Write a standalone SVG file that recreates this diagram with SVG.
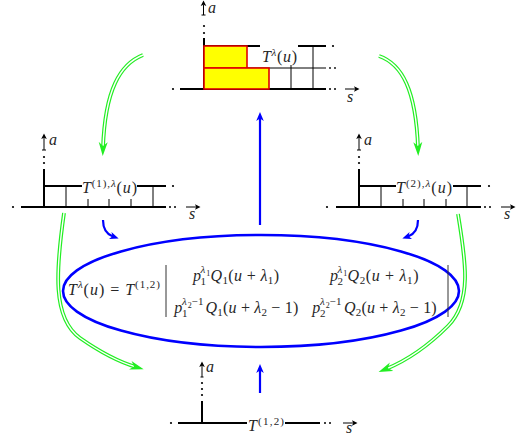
<svg xmlns="http://www.w3.org/2000/svg" width="522" height="436" viewBox="0 0 522 436">
<style>
.k{stroke:#000;stroke-width:2;fill:none}
.t{stroke:#000;stroke-width:1;fill:none}
.ax{stroke:#000;stroke-width:1;fill:none}
.d{fill:#000}
.f{font-family:"Liberation Serif","DejaVu Serif",serif;font-size:16px;fill:#262626}
.i{font-style:italic}
.sp{font-size:11px}
.sb{font-size:11px}
.ss{font-size:8px}
.g1{stroke:#22ee22;stroke-width:3.8;fill:none}
.g2{stroke:#fff;stroke-width:1.4;fill:none}
.bl{stroke:#0000ff;stroke-width:2.2;fill:none}
</style>
<defs>
<marker id="gh" markerUnits="userSpaceOnUse" markerWidth="16" markerHeight="12" viewBox="0 -6 16 12" refX="6" refY="0" orient="auto">
<path d="M0,-4.5 L14,0 L0,4.5 L4,0 Z" fill="#22ee22"/>
</marker>
<marker id="bh" markerUnits="userSpaceOnUse" markerWidth="12" markerHeight="10" viewBox="0 -5 12 10" refX="3" refY="0" orient="auto">
<path d="M0,-3.8 L9,0 L0,3.8 L2.5,0 Z" fill="#0000ff"/>
</marker>
<marker id="kh" markerUnits="userSpaceOnUse" markerWidth="8" markerHeight="8" viewBox="0 -4 8 8" refX="1" refY="0" orient="auto">
<path d="M0,-2.8 L5.5,0 L0,2.8 L1.2,0 Z" fill="#000"/>
</marker>
</defs>

<!-- top node: T^lambda(u) -->
<g id="node-top">
<line class="ax" x1="203.5" y1="15" x2="203.5" y2="5" marker-end="url(#kh)"/>
<line class="ax" x1="201.5" y1="15" x2="205.5" y2="15"/>
<text class="f i" x="208" y="13" font-size="13">a</text>
<circle class="d" cx="204" cy="26" r="1.1"/>
<circle class="d" cx="204" cy="33" r="1.1"/>
<line class="k" x1="204" y1="38" x2="204" y2="89"/>
<line class="k" x1="204" y1="46" x2="260" y2="46"/>
<line class="k" x1="298" y1="46" x2="326" y2="46"/>
<circle class="d" cx="333" cy="46" r="1.1"/>
<line class="t" x1="247" y1="68" x2="326" y2="68"/>
<circle class="d" cx="330" cy="68" r="0.9"/>
<circle class="d" cx="335" cy="68" r="0.9"/>
<line class="k" x1="180" y1="89" x2="326" y2="89"/>
<circle class="d" cx="173" cy="89" r="1.1"/>
<circle class="d" cx="330" cy="89" r="1"/>
<circle class="d" cx="335" cy="89" r="1"/>
<line class="t" x1="291" y1="65" x2="291" y2="89"/>
<line class="t" x1="313" y1="46" x2="313" y2="89"/>
<rect x="204" y="46" width="43" height="22" fill="#ffff00" stroke="#e00000" stroke-width="1.6"/>
<rect x="204" y="68" width="65" height="21" fill="#ffff00" stroke="#e00000" stroke-width="1.6"/>
<line class="ax" x1="345" y1="89" x2="355" y2="89" marker-end="url(#kh)"/>
<text class="f i" x="347" y="102" font-size="13">s</text>
<text class="f" x="262" y="62" textLength="35"><tspan class="i">T</tspan><tspan class="sp i" dy="-6">λ</tspan><tspan dy="6">(</tspan><tspan class="i">u</tspan>)</text>
</g>

<!-- left node: T^(1),lambda(u) -->
<g id="node-left">
<line class="ax" x1="44" y1="150" x2="44" y2="138" marker-end="url(#kh)"/>
<line class="ax" x1="42" y1="150" x2="46" y2="150"/>
<text class="f i" x="49" y="145" font-size="13">a</text>
<circle class="d" cx="44" cy="157" r="1.1"/>
<circle class="d" cx="44" cy="163" r="1.1"/>
<line class="k" x1="44" y1="169" x2="44" y2="207"/>
<line class="k" x1="44" y1="186" x2="82" y2="186"/>
<line class="k" x1="137" y1="186" x2="166" y2="186"/>
<circle class="d" cx="173" cy="186" r="1.1"/>
<line class="k" x1="21" y1="207" x2="166" y2="207"/>
<circle class="d" cx="13" cy="207" r="1.1"/>
<circle class="d" cx="170" cy="207" r="1"/>
<circle class="d" cx="175" cy="207" r="1"/>
<line class="t" x1="66" y1="186" x2="66" y2="207"/>
<line class="t" x1="153" y1="186" x2="153" y2="207"/>
<line class="t" x1="88" y1="199" x2="88" y2="207"/>
<line class="t" x1="109" y1="199" x2="109" y2="207"/>
<line class="t" x1="131" y1="199" x2="131" y2="207"/>
<line class="ax" x1="186" y1="207" x2="196" y2="207" marker-end="url(#kh)"/>
<text class="f i" x="189" y="219" font-size="13">s</text>
<text class="f" x="82" y="193" textLength="55"><tspan class="i">T</tspan><tspan class="sp" dy="-6">(1),</tspan><tspan class="sp i">λ</tspan><tspan dy="6">(</tspan><tspan class="i">u</tspan>)</text>
</g>

<!-- right node: T^(2),lambda(u) -->
<g id="node-right">
<line class="ax" x1="359" y1="150" x2="359" y2="138" marker-end="url(#kh)"/>
<line class="ax" x1="357" y1="150" x2="361" y2="150"/>
<text class="f i" x="364" y="145" font-size="13">a</text>
<circle class="d" cx="359" cy="157" r="1.1"/>
<circle class="d" cx="359" cy="163" r="1.1"/>
<line class="k" x1="359" y1="169" x2="359" y2="207"/>
<line class="k" x1="359" y1="186" x2="396" y2="186"/>
<line class="k" x1="453" y1="186" x2="481" y2="186"/>
<circle class="d" cx="489" cy="186" r="1.1"/>
<line class="k" x1="336" y1="207" x2="481" y2="207"/>
<circle class="d" cx="327" cy="207" r="1.1"/>
<circle class="d" cx="485" cy="207" r="1"/>
<circle class="d" cx="490" cy="207" r="1"/>
<line class="t" x1="381" y1="186" x2="381" y2="207"/>
<line class="t" x1="467" y1="186" x2="467" y2="207"/>
<line class="t" x1="403" y1="199" x2="403" y2="207"/>
<line class="t" x1="424" y1="199" x2="424" y2="207"/>
<line class="t" x1="446" y1="199" x2="446" y2="207"/>
<line class="ax" x1="501" y1="207" x2="511" y2="207" marker-end="url(#kh)"/>
<text class="f i" x="504" y="219" font-size="13">s</text>
<text class="f" x="396" y="193" textLength="56"><tspan class="i">T</tspan><tspan class="sp" dy="-6">(2),</tspan><tspan class="sp i">λ</tspan><tspan dy="6">(</tspan><tspan class="i">u</tspan>)</text>
</g>

<!-- bottom node: T^(1,2) -->
<g id="node-bottom">
<line class="ax" x1="202" y1="377" x2="202" y2="366" marker-end="url(#kh)"/>
<line class="ax" x1="200.5" y1="377" x2="203.5" y2="377"/>
<text class="f i" x="206" y="372" font-size="11">a</text>
<circle class="d" cx="202" cy="383" r="1.1"/>
<circle class="d" cx="202" cy="389" r="1.1"/>
<circle class="d" cx="202" cy="395" r="1.1"/>
<line class="k" x1="202" y1="401" x2="202" y2="423"/>
<line class="k" x1="178" y1="423" x2="247" y2="423"/>
<line class="k" x1="285" y1="423" x2="320" y2="423"/>
<circle class="d" cx="171" cy="423" r="1.1"/>
<circle class="d" cx="325" cy="423" r="1"/>
<circle class="d" cx="330" cy="423" r="1"/>
<line class="ax" x1="343" y1="423" x2="353" y2="423" marker-end="url(#kh)"/>
<text class="f i" x="346" y="433" font-size="12">s</text>
<text class="f" x="248" y="431" textLength="36"><tspan class="i">T</tspan><tspan class="sp" dy="-6">(1,2)</tspan></text>
</g>

<!-- ellipse node: determinant formula -->
<g id="node-formula">
<ellipse cx="261" cy="291" rx="198" ry="56" fill="none" stroke="#0000ff" stroke-width="2.6"/>
<text class="f" x="68" y="295" textLength="92"><tspan class="i">T</tspan><tspan class="sp i" dy="-7">λ</tspan><tspan dy="7">(</tspan><tspan class="i">u</tspan>) = <tspan class="i">T</tspan><tspan class="sp" dy="-7">(1,2)</tspan></text>
<line x1="166" y1="265" x2="166" y2="317" stroke="#333" stroke-width="1"/>
<line x1="448" y1="265" x2="448" y2="317" stroke="#333" stroke-width="1"/>
<!-- row 1 col 1 -->
<text class="f i" x="193" y="281">p</text>
<text class="f i sp" x="200.5" y="273">λ</text>
<text class="f ss" x="206.2" y="275.5">1</text>
<text class="f sb" x="200.5" y="285">1</text>
<text class="f" x="210.5" y="281" textLength="68.5"><tspan class="i">Q</tspan><tspan class="sb" dy="3">1</tspan><tspan dy="-3">(</tspan><tspan class="i">u</tspan> + <tspan class="i">λ</tspan><tspan class="sb" dy="3">1</tspan><tspan dy="-3">)</tspan></text>
<!-- row 1 col 2 -->
<text class="f i" x="330" y="281">p</text>
<text class="f i sp" x="337.5" y="273">λ</text>
<text class="f ss" x="343.2" y="275.5">1</text>
<text class="f sb" x="337.5" y="285">2</text>
<text class="f" x="347.5" y="281" textLength="71"><tspan class="i">Q</tspan><tspan class="sb" dy="3">2</tspan><tspan dy="-3">(</tspan><tspan class="i">u</tspan> + <tspan class="i">λ</tspan><tspan class="sb" dy="3">1</tspan><tspan dy="-3">)</tspan></text>
<!-- row 2 col 1 -->
<text class="f i" x="174.3" y="313">p</text>
<text class="f i sp" x="182" y="305">λ</text>
<text class="f ss" x="187.7" y="307.5">2</text>
<text class="f sp" x="191.5" y="305" textLength="12">−1</text>
<text class="f sb" x="182" y="317">1</text>
<text class="f" x="205.5" y="313" textLength="92.8"><tspan class="i">Q</tspan><tspan class="sb" dy="3">1</tspan><tspan dy="-3">(</tspan><tspan class="i">u</tspan> + <tspan class="i">λ</tspan><tspan class="sb" dy="3">2</tspan><tspan dy="-3"> − 1)</tspan></text>
<!-- row 2 col 2 -->
<text class="f i" x="312.3" y="313">p</text>
<text class="f i sp" x="320" y="305">λ</text>
<text class="f ss" x="325.7" y="307.5">2</text>
<text class="f sp" x="329.5" y="305" textLength="12">−1</text>
<text class="f sb" x="320" y="317">2</text>
<text class="f" x="344" y="313" textLength="92.7"><tspan class="i">Q</tspan><tspan class="sb" dy="3">2</tspan><tspan dy="-3">(</tspan><tspan class="i">u</tspan> + <tspan class="i">λ</tspan><tspan class="sb" dy="3">2</tspan><tspan dy="-3"> − 1)</tspan></text>
</g>

<!-- connectors -->
<g id="connectors">
<path class="g1" d="M143,55 C120,64 105,90 103,148"/>
<path class="g2" d="M143,55 C120,64 105,90 103,148" marker-end="url(#gh)"/>
<path class="g1" d="M379,56 C402,64 416,90 418,148"/>
<path class="g2" d="M379,56 C402,64 416,90 418,148" marker-end="url(#gh)"/>
<path class="g1" d="M64,213 C56,270 52,318 80,338 C100,352 116,361 136,367"/>
<path class="g2" d="M64,213 C56,270 52,318 80,338 C100,352 116,361 136,367" marker-end="url(#gh)"/>
<path class="g1" d="M458,214 C466,262 472,302 448,326 C428,346 408,360 386,369"/>
<path class="g2" d="M458,214 C466,262 472,302 448,326 C428,346 408,360 386,369" marker-end="url(#gh)"/>
<line class="bl" x1="260" y1="225" x2="260" y2="118" marker-end="url(#bh)"/>
<line class="bl" x1="260" y1="393" x2="260" y2="370" marker-end="url(#bh)"/>
<path class="bl" d="M103,220 C103,228 106,234 113,236.5" marker-end="url(#bh)"/>
<path class="bl" d="M418,220 C418,228 415,234 408,236.5" marker-end="url(#bh)"/>
</g>
</svg>
